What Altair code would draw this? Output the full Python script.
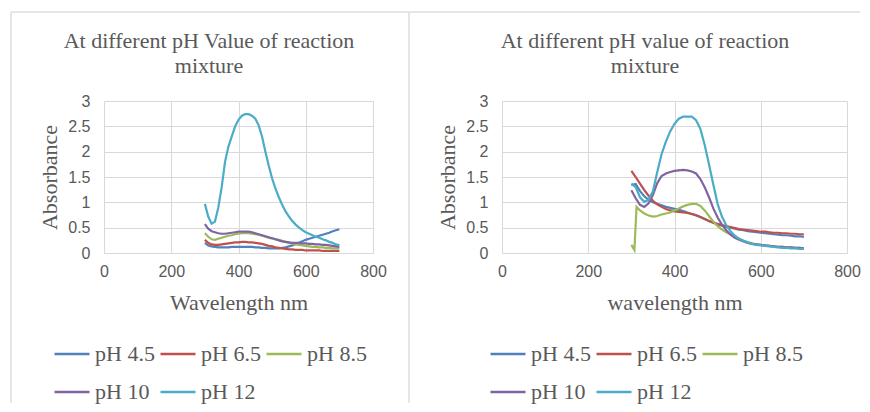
import altair as alt
import pandas as pd

SERIES = ["pH 4.5", "pH 6.5", "pH 8.5", "pH 10", "pH 12"]
COLORS = ["#4F81BD", "#C0504D", "#9BBB59", "#8064A2", "#4BACC6"]
# legend fills column by column (2 rows): this order shows 4.5 6.5 8.5 / 10 12
LEGEND_ORDER = ["pH 4.5", "pH 10", "pH 6.5", "pH 12", "pH 8.5"]
LEGEND_COLORS = ["#4F81BD", "#8064A2", "#C0504D", "#4BACC6", "#9BBB59"]

WL = [300, 310, 320, 330, 340, 350, 360, 370, 380, 390, 400, 410, 420, 430, 440,
      450, 460, 470, 480, 490, 500, 510, 520, 530, 540, 550, 560, 570, 580, 590,
      600, 610, 620, 630, 640, 650, 660, 670, 680, 690, 700]

# ---- left panel ----
L_45 = [0.20, 0.15, 0.13, 0.12, 0.11, 0.11, 0.11, 0.11, 0.12, 0.12, 0.12, 0.12, 0.12, 0.12, 0.12,
        0.11, 0.11, 0.10, 0.10, 0.09, 0.09, 0.09, 0.09, 0.10, 0.11, 0.13, 0.15, 0.18, 0.20, 0.23,
        0.26, 0.28, 0.30, 0.32, 0.34, 0.36, 0.38, 0.40, 0.43, 0.45, 0.47]
L_65 = [0.26, 0.20, 0.17, 0.16, 0.16, 0.17, 0.18, 0.19, 0.20, 0.21, 0.21, 0.22, 0.22, 0.21, 0.21,
        0.20, 0.19, 0.18, 0.16, 0.14, 0.13, 0.11, 0.10, 0.09, 0.08, 0.07, 0.07, 0.06, 0.06, 0.06,
        0.05, 0.05, 0.05, 0.05, 0.05, 0.04, 0.04, 0.04, 0.04, 0.04, 0.04]
L_85 = [0.39, 0.32, 0.27, 0.26, 0.28, 0.30, 0.32, 0.34, 0.35, 0.37, 0.38, 0.39, 0.39, 0.39, 0.38,
        0.37, 0.36, 0.34, 0.32, 0.30, 0.29, 0.27, 0.26, 0.24, 0.22, 0.20, 0.19, 0.17, 0.16, 0.15,
        0.14, 0.13, 0.12, 0.12, 0.11, 0.11, 0.10, 0.10, 0.09, 0.09, 0.09]
L_10 = [0.57, 0.48, 0.43, 0.41, 0.39, 0.38, 0.38, 0.39, 0.40, 0.41, 0.42, 0.42, 0.42, 0.42, 0.41,
        0.39, 0.37, 0.35, 0.33, 0.31, 0.29, 0.27, 0.25, 0.23, 0.22, 0.21, 0.20, 0.20, 0.20, 0.19,
        0.19, 0.18, 0.18, 0.17, 0.17, 0.16, 0.16, 0.15, 0.14, 0.13, 0.12]
L_12 = [0.97, 0.72, 0.58, 0.62, 0.90, 1.30, 1.80, 2.10, 2.30, 2.50, 2.63, 2.71, 2.74, 2.74, 2.71,
        2.65, 2.52, 2.30, 2.00, 1.72, 1.47, 1.27, 1.10, 0.95, 0.82, 0.72, 0.63, 0.56, 0.50, 0.45,
        0.41, 0.38, 0.35, 0.32, 0.30, 0.27, 0.25, 0.22, 0.20, 0.17, 0.15]

# ---- right panel ----
R_45 = [1.34, 1.36, 1.22, 1.12, 1.05, 1.00, 0.97, 0.94, 0.91, 0.89, 0.87, 0.85, 0.83, 0.80, 0.77,
        0.74, 0.71, 0.67, 0.63, 0.60, 0.57, 0.54, 0.52, 0.50, 0.48, 0.46, 0.45, 0.43, 0.42, 0.41,
        0.40, 0.39, 0.38, 0.37, 0.36, 0.35, 0.35, 0.34, 0.33, 0.33, 0.32]
R_65 = [1.62, 1.50, 1.37, 1.24, 1.13, 1.03, 0.96, 0.91, 0.87, 0.84, 0.82, 0.81, 0.80, 0.79, 0.77,
        0.75, 0.71, 0.67, 0.63, 0.60, 0.57, 0.55, 0.53, 0.51, 0.49, 0.47, 0.46, 0.45, 0.44, 0.43,
        0.42, 0.42, 0.41, 0.40, 0.40, 0.39, 0.39, 0.38, 0.38, 0.37, 0.37]
R_85_WL = [300, 307, 312, 320, 330, 340, 350, 360, 370, 380, 390, 400, 410, 420, 430, 440,
           450, 460, 470, 480, 490, 500, 510, 520, 530, 540, 550, 560, 570, 580, 590,
           600, 610, 620, 630, 640, 650, 660, 670, 680, 690, 700]
R_85 = [0.16, 0.06, 0.91, 0.84, 0.78, 0.74, 0.72, 0.73, 0.76, 0.78, 0.80, 0.84, 0.88, 0.92, 0.95, 0.97,
        0.97, 0.93, 0.84, 0.73, 0.62, 0.53, 0.46, 0.41, 0.37, 0.32, 0.28, 0.24, 0.21, 0.19, 0.17,
        0.16, 0.15, 0.14, 0.13, 0.12, 0.12, 0.11, 0.11, 0.10, 0.10, 0.09]
R_10 = [1.24, 1.08, 0.95, 0.91, 0.98, 1.15, 1.38, 1.52, 1.57, 1.60, 1.62, 1.63, 1.64, 1.63, 1.61,
        1.57, 1.46, 1.30, 1.10, 0.88, 0.70, 0.56, 0.45, 0.36, 0.30, 0.26, 0.23, 0.20, 0.18, 0.17,
        0.16, 0.15, 0.14, 0.13, 0.12, 0.12, 0.11, 0.11, 0.10, 0.10, 0.09]
R_12 = [1.37, 1.30, 1.10, 1.01, 1.05, 1.22, 1.60, 1.95, 2.20, 2.40, 2.55, 2.65, 2.69, 2.69, 2.69,
        2.62, 2.45, 2.13, 1.75, 1.35, 0.97, 0.72, 0.55, 0.43, 0.34, 0.28, 0.24, 0.21, 0.18, 0.16,
        0.15, 0.14, 0.13, 0.12, 0.11, 0.10, 0.10, 0.09, 0.09, 0.08, 0.08]

X_TICKS = [0, 200, 400, 600, 800]
Y_TICKS = [0, 0.5, 1, 1.5, 2, 2.5, 3]


def frame(pairs):
    rows = []
    for name, wl, vals in pairs:
        for w, v in zip(wl, vals):
            rows.append({"series": name, "wl": w, "abs": v})
    return pd.DataFrame(rows)


left_df = frame([("pH 4.5", WL, L_45), ("pH 6.5", WL, L_65), ("pH 8.5", WL, L_85),
                 ("pH 10", WL, L_10), ("pH 12", WL, L_12)])
right_df = frame([("pH 4.5", WL, R_45), ("pH 6.5", WL, R_65), ("pH 8.5", R_85_WL, R_85),
                  ("pH 10", WL, R_10), ("pH 12", WL, R_12)])

SERIF = "Liberation Serif, Times New Roman, Times, serif"
SANS = "Liberation Sans, Arial, sans-serif"
TXT = "#595959"
GRID = "#D9D9D9"
BORDER = "#DEDEDE"


def lines(df, xtitle, legend_x):
    return alt.Chart(df).mark_line(strokeWidth=2.2).encode(
        x=alt.X("wl:Q", title=xtitle,
                scale=alt.Scale(domain=[0, 800], nice=False),
                axis=alt.Axis(values=X_TICKS, grid=True, gridColor=GRID, domainColor=GRID,
                              ticks=False, labelFlush=False, labelFont=SANS, labelFontSize=16,
                              labelColor=TXT, labelPadding=10, titleFont=SERIF,
                              titleFontSize=22, titleFontWeight="normal", titleColor=TXT,
                              titlePadding=13)),
        y=alt.Y("abs:Q", title="Absorbance",
                scale=alt.Scale(domain=[0, 3], nice=False),
                axis=alt.Axis(values=Y_TICKS, grid=True, gridColor=GRID, domain=False,
                              ticks=False, labelFont=SANS, labelFontSize=16, labelColor=TXT,
                              labelPadding=14, labelExpr="'' + datum.value",
                              titleFont=SERIF, titleFontSize=22, titleFontWeight="normal",
                              titleColor=TXT, titlePadding=6)),
        color=alt.Color("series:N",
                        scale=alt.Scale(domain=LEGEND_ORDER, range=LEGEND_COLORS),
                        legend=alt.Legend(title=None, orient="none", legendX=legend_x,
                                          legendY=234, columns=3, symbolType="stroke",
                                          symbolSize=1225, symbolStrokeWidth=2.5,
                                          labelFont=SERIF, labelFontSize=22, labelColor=TXT,
                                          labelOffset=4, columnPadding=0, rowPadding=8,
                                          labelLimit=200)),
        order=alt.Order("wl:Q"),
    )


def title(text, dy):
    return alt.Title(text, font=SERIF, fontSize=22, fontWeight="normal", color=TXT,
                     anchor="middle", frame="group", lineHeight=25, offset=18,
                     dx=-29.5, dy=dy)


# light frame around the chart area (decoration, pixel offsets from the left plot)
one = pd.DataFrame({"k": [0]})
border_v1 = alt.Chart(one).mark_rule(color=BORDER, strokeWidth=1.5).encode(
    x=alt.value(-93), y=alt.value(-89), y2=alt.value(302))
border_v2 = alt.Chart(one).mark_rule(color=BORDER, strokeWidth=1.5).encode(
    x=alt.value(305), y=alt.value(-89), y2=alt.value(302))
border_h = alt.Chart(one).mark_rule(color=BORDER, strokeWidth=1.5).encode(
    x=alt.value(-93), x2=alt.value(756), y=alt.value(-89))

left = alt.layer(
    border_v1, border_v2, border_h,
    lines(left_df, "Wavelength nm", -51),
).properties(width=269, height=152,
             title=title(["At different pH Value of reaction", "mixture"], 85))

right = lines(right_df, "wavelength nm", -13).properties(
    width=345, height=152,
    title=title(["At different pH value of reaction", "mixture"], 3))

chart = alt.hconcat(left, right, spacing=129, bounds="flush").resolve_scale(
    color="independent"
).properties(
    padding={"left": 2, "top": 3, "right": 0, "bottom": 0}
).configure_view(stroke=None)

chart.save("out.html", embed_options={"renderer": "svg", "actions": False})
